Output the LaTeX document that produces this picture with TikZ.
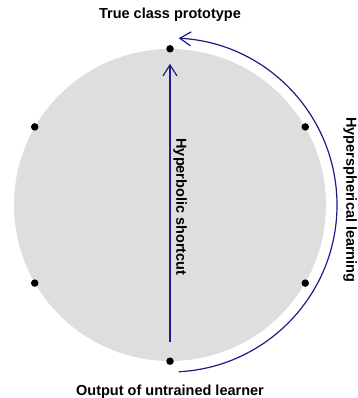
\documentclass[tikz,border=0pt]{standalone}
\usepackage{fontspec}
\setmainfont{Liberation Sans}
\usepackage{tikz}
\usetikzlibrary{positioning,arrows.meta}
\definecolor{navyline}{RGB}{28,28,140}
\definecolor{ballgray}{RGB}{222,222,222}

\begin{document}
\begin{tikzpicture}[x=1pt, y=1pt,
  ball/.style={circle, fill=ballgray, minimum size=312pt, inner sep=0pt},
  dot/.style={circle, fill=black, minimum size=7.5pt, inner sep=0pt},
  lbl/.style={font=\fontsize{14.5}{17}\selectfont\bfseries, inner sep=0pt},
  arr/.style={-{Straight Barb[length=11pt, width=14pt]}, navyline, line width=1.2pt},
]
\useasboundingbox (0,0) rectangle (357,398);
\node[ball] (ball) at (170,193) {};
\foreach \a/\n in {90/top, 150/upleft, 210/lowleft, 270/bottom, 330/lowright, 30/upright}
  \node[dot] (\n) at (ball.\a) {};
\node[lbl, above=23pt of top] (proto) {True class prototype};
\node[lbl, below=20pt of bottom] (output) {Output of untrained learner};
\node[lbl, rotate=-90] (shortcut) at (180,191) {Hyperbolic shortcut};
\node[lbl, rotate=-90] (learning) at (350,198) {Hyperspherical learning};
\draw[arr, shorten <=19pt, shorten >=15pt] (bottom.center) -- (top.center);
\coordinate (arcstart) at ([shift={(-87:167pt)}]ball.center);
\draw[arr] (arcstart) arc[start angle=-87, end angle=87, radius=167pt];
\end{tikzpicture}
\end{document}
